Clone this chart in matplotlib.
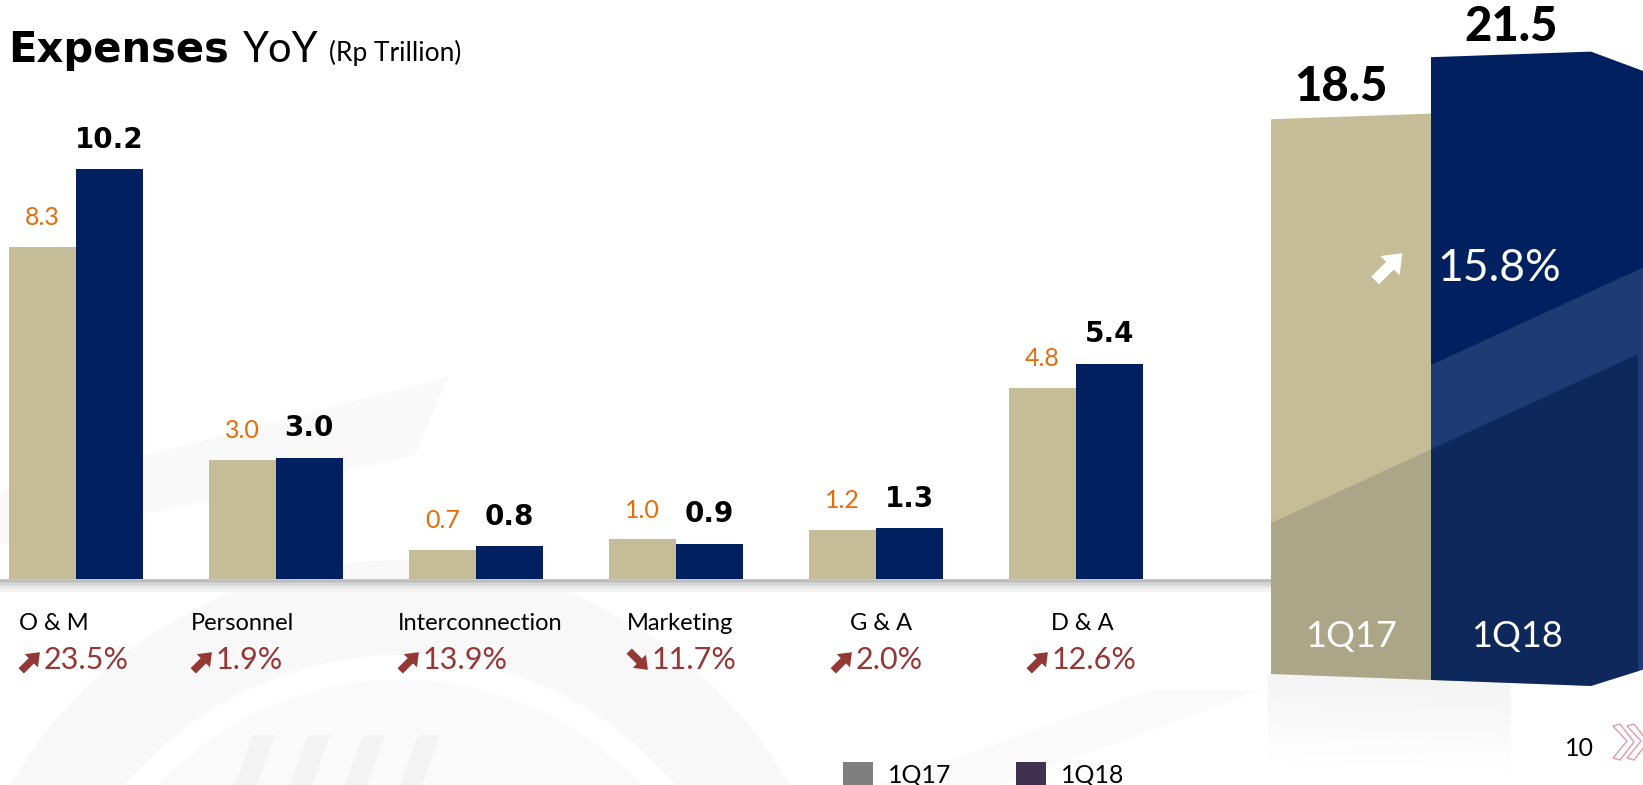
import matplotlib
matplotlib.use('Agg')
import matplotlib.pyplot as plt
from matplotlib.patches import Polygon, Patch, Wedge, FancyArrow
from matplotlib.lines import Line2D
import numpy as np

# ---------------- data ----------------
categories = ['O & M', 'Personnel', 'Interconnection', 'Marketing', 'G & A', 'D & A']
q17 = [8.26, 2.96, 0.72, 0.99, 1.22, 4.76]
q18 = [10.20, 3.02, 0.82, 0.88, 1.26, 5.36]
yoy = ['23.5%', '1.9%', '13.9%', '11.7%', '2.0%', '12.6%']
yoy_up = [True, True, True, False, True, True]
series = ['1Q17', '1Q18']
totals = [18.5, 21.5]
total_yoy = '15.8%'

# ---------------- style ----------------
TAN = '#C4BD97'
NAVY = '#002060'
ORANGE = '#E46C0A'
RED = '#953735'
LEG_COLORS = ['#7F7F7F', '#403151']

W, H = 1643, 785
fig = plt.figure(figsize=(W / 100, H / 100), dpi=100)
fig.patch.set_facecolor('white')


def fx(px):
    return px / W


def fy(py):
    return 1 - py / H


# pixel-space background axes (y downwards)
bg = fig.add_axes([0, 0, 1, 1], zorder=0)
bg.set_xlim(0, W)
bg.set_ylim(H, 0)
bg.axis('off')

# faint watermark
bg.add_patch(Wedge((400, 1010), 450, 180, 360, width=95, color='#F8F8F8', lw=0))
bg.add_patch(Wedge((400, 1010), 330, 180, 360, color='#FAFAFA', lw=0))
for sx in [235, 290, 345, 400]:
    bg.add_patch(Polygon([[sx, 785], [sx + 18, 735], [sx + 40, 735], [sx + 22, 785]],
                         color='#F3F3F3', lw=0))
bg.add_patch(Polygon([[0, 493], [448, 377], [415, 455], [0, 545]], color='#F9F9F9', lw=0))
bg.add_patch(Polygon([[880, 785], [1150, 690], [1260, 690], [1000, 785]], color='#FAFAFA', lw=0))


def bold_arrow(xl, yc, size, color, up=True, z=10):
    """Heavy diagonal arrow in pixel space, left edge xl, vertical centre yc."""
    s = size
    if up:
        x0, y0, dx, dy = xl + 0.1 * s, yc + 0.45 * s, 0.85 * s, -0.85 * s
    else:
        x0, y0, dx, dy = xl + 0.1 * s, yc - 0.45 * s, 0.85 * s, 0.85 * s
    arr = FancyArrow(x0, y0, dx, dy, width=0.34 * s, head_width=0.85 * s,
                     head_length=0.55 * s, length_includes_head=True,
                     color=color, lw=0, transform=bg.transData, zorder=z)
    fig.add_artist(arr)


# ---------------- left grouped bar chart ----------------
BASE_PY = 579
PX_PER_UNIT = 40.2
GROUP_PX = 200
FIRST_CENTER_PX = 76
AX_RIGHT_PX = 1273

ax = fig.add_axes([0, fy(BASE_PY), fx(AX_RIGHT_PX), BASE_PY / H], zorder=2)
ax.patch.set_alpha(0)
x0 = -FIRST_CENTER_PX / GROUP_PX
ax.set_xlim(x0, x0 + AX_RIGHT_PX / GROUP_PX)
ax.set_ylim(0, BASE_PY / PX_PER_UNIT)
ax.axis('off')

x = np.arange(len(categories))
w = 0.3335
ax.bar(x - w / 2, q17, w, color=TAN, zorder=3)
ax.bar(x + w / 2, q18, w, color=NAVY, zorder=3)
for xi, a, b in zip(x, q17, q18):
    ax.annotate(f'{a:.1f}', (xi - w / 2, a), xytext=(0, 21), textcoords='offset points',
                ha='center', va='center', color=ORANGE, fontsize=18, family='Lato')
    ax.annotate(f'{b:.1f}', (xi + w / 2, b), xytext=(0, 21), textcoords='offset points',
                ha='center', va='center', color='black', fontsize=20,
                family='DejaVu Sans', fontweight='bold')

# baseline with soft shadow
for off, col, lw in [(2, '#BDBDBD', 2.6), (5, '#D8D8D8', 2.2), (8, '#E9E9E9', 2.2), (11, '#F4F4F4', 2.2)]:
    fig.add_artist(Line2D([0, fx(AX_RIGHT_PX)], [fy(BASE_PY + off), fy(BASE_PY + off)],
                          color=col, lw=lw, zorder=1.5))

# category names and YoY changes
cat_px = [19, 191, 398, 627, 850, 1051]
pct_px = [19, 191, 398, 627, 831, 1027]
for c, cp, pp, p, up in zip(categories, cat_px, pct_px, yoy, yoy_up):
    fig.text(fx(cp), fy(623), c, ha='left', va='center', fontsize=17, family='Lato', color='black')
    bold_arrow(pp, 661, 22, RED, up)
    fig.text(fx(pp + 25), fy(660), p, ha='left', va='center', fontsize=22, family='Lato',
             color=RED)

# title
fig.text(fx(8), fy(62), 'Expenses', ha='left', va='baseline', fontsize=30,
         family='DejaVu Sans', fontweight='bold')
fig.text(fx(243), fy(62), 'YoY', ha='left', va='baseline', fontsize=30, family='Lato')
fig.text(fx(329), fy(61), '(Rp Trillion)', ha='left', va='baseline', fontsize=19, family='Lato')

# legend
handles = [Patch(facecolor=c, edgecolor='none') for c in LEG_COLORS]
fig.legend(handles, series, loc='center left', bbox_to_anchor=(fx(843), fy(774)),
           frameon=False, ncol=2, handlelength=1.2, handleheight=1.1,
           handletextpad=0.6, columnspacing=2.6, borderpad=0, borderaxespad=0,
           prop={'family': 'Lato', 'size': 18})

# page number + logo
fig.text(fx(1579), fy(748), '10', ha='center', va='center', fontsize=18, family='Lato')
for dx in [0, 14]:
    fig.add_artist(Polygon([[fx(1613 + dx), fy(726)], [fx(1627 + dx), fy(741)],
                            [fx(1613 + dx), fy(758)], [fx(1620 + dx), fy(760)],
                            [fx(1634 + dx), fy(742)], [fx(1620 + dx), fy(724)]],
                           closed=True, fill=False, edgecolor='#E29AA5', lw=1.0, zorder=5))

# ---------------- right total bars (perspective block) ----------------
R_LEFT_PX = 1190
UNIT_X_PX = 160
Y0_PY = 498.8
PXV = 20.67
ax2 = fig.add_axes([fx(R_LEFT_PX), 0, fx(W - R_LEFT_PX), 1], zorder=3)
ax2.patch.set_alpha(0)
ax2.set_xlim((R_LEFT_PX - 1431) / UNIT_X_PX + 0.5, (W - 1431) / UNIT_X_PX + 0.5)
ax2.set_ylim((Y0_PY - H) / PXV, Y0_PY / PXV)
ax2.axis('off')

tilt_top = 0.27
tilt_bot = 0.29
base = -8.766


def bottom(xv):
    return base - tilt_bot * (xv - 0.5)


tan_poly = [(-0.5, totals[0] - tilt_top * 0.5), (0.5, totals[0] + tilt_top * 0.5),
            (0.5, bottom(0.5)), (-0.5, bottom(-0.5))]
xs_end = 2.2
nt = totals[1] + tilt_top * 0.5
nb = bottom(1.5)
navy_poly = [(0.5, totals[1] - tilt_top * 0.5), (1.5, nt),
             (xs_end, nt - 2.88 * (xs_end - 1.5)), (xs_end, nb + 2.43 * (xs_end - 1.5)),
             (1.5, nb), (0.5, bottom(0.5))]

# soft reflection under the bars
for k in range(10):
    d0 = k * 0.42
    alpha = 0.045 * (1 - k / 10)
    refl = [(-0.52, bottom(-0.52) - d0), (1.0, bottom(1.0) - d0),
            (1.0, bottom(1.0) - d0 - 0.42), (-0.52, bottom(-0.52) - d0 - 0.42)]
    ax2.add_patch(Polygon(refl, color='black', alpha=alpha, lw=0))

p_tan = Polygon(tan_poly, closed=True, color=TAN, lw=0)
p_navy = Polygon(navy_poly, closed=True, color=NAVY, lw=0)
ax2.add_patch(p_tan)
ax2.add_patch(p_navy)

slope = 3.56
band_top0 = 6.47      # value at x=0.5 for the upper edge of the light band
dark0 = 2.39          # value at x=0.5 for the upper edge of the dark overlay
x_dark_end = (1638 - 1431) / UNIT_X_PX + 0.5

band = Polygon([(0.5, band_top0), (xs_end, band_top0 + slope * (xs_end - 0.5)),
                (xs_end, -14), (x_dark_end, -14),
                (x_dark_end, dark0 + slope * (x_dark_end - 0.5)), (0.5, dark0)],
               closed=True, color='white', alpha=0.12, lw=0)
ax2.add_patch(band)
band.set_clip_path(p_navy)

for clip in (p_tan, p_navy):
    dark = Polygon([(-0.6, dark0 + slope * (-0.6 - 0.5)),
                    (x_dark_end, dark0 + slope * (x_dark_end - 0.5)),
                    (x_dark_end, -14), (-0.6, -14)],
                   closed=True, color='#4D4D4D', alpha=0.2, lw=0)
    ax2.add_patch(dark)
    dark.set_clip_path(clip)

# value labels
ax2.annotate(f'{totals[0]:.1f}', (0, totals[0]), xytext=(-7, 21), textcoords='offset points',
             ha='center', va='center', fontsize=34, family='Lato', fontweight='black')
ax2.annotate(f'{totals[1]:.1f}', (1.0, totals[1]), xytext=(0, 20), textcoords='offset points',
             ha='center', va='center', fontsize=34, family='Lato', fontweight='black')

# growth
bold_arrow(1372, 266, 32, 'white', True, z=10)
ax2.text(0.54, 11.15, total_yoy, ha='left', va='center', fontsize=32, family='Lato',
         color='white')

# period names
for xv, s in zip([0.0, 1.04], series):
    ax2.text(xv, -6.66, s, ha='center', va='center', fontsize=26, family='Lato',
             color='white')

fig.savefig('out.png', dpi=100, facecolor='white')
